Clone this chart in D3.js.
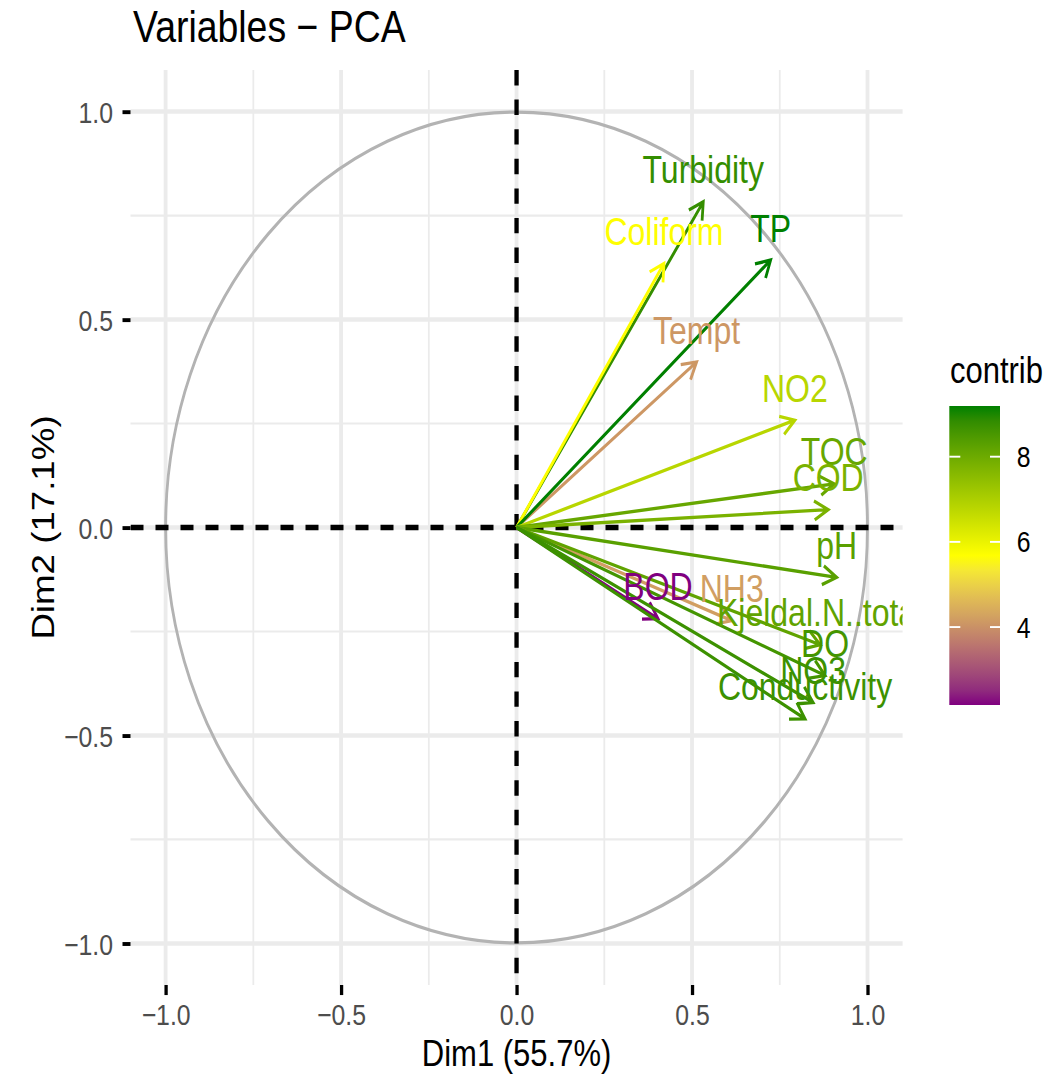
<!DOCTYPE html>
<html>
<head>
<meta charset="utf-8">
<script src="https://cdn.jsdelivr.net/npm/d3@7"></script>
<style>
  html, body { margin: 0; padding: 0; background: #fff; }
  svg { display: block; }
</style>
</head>
<body>
<div id="viz"></div>
<script>
// Variable loadings on Dim1 / Dim2 and their contribution.
const VAR_NAMES = ['Tempt', 'Turbidity', 'Coliform', 'TP', 'NO2', 'TOC', 'COD', 'pH',
  'BOD', 'NH3', 'Kjeldal.N..total', 'DO', 'NO3', 'Conductivity'];
const DIM1 = [0.513, 0.532, 0.420, 0.724, 0.793, 0.905, 0.888, 0.912,
  0.403, 0.613, 0.865, 0.879, 0.845, 0.822];
const DIM2 = [0.398, 0.783, 0.635, 0.643, 0.258, 0.105, 0.043, -0.120,
  -0.219, -0.224, -0.282, -0.356, -0.421, -0.460];
const CONTRIB = [4.1, 8.8, 5.7, 9.19, 6.8, 8.1, 7.8, 8.3,
  2.17, 4.2, 8.2, 8.6, 8.7, 8.7];

const AXIS_TICKS = [-1, -0.5, 0, 0.5, 1];
const MINOR_TICKS = [-0.75, -0.25, 0.25, 0.75];
const LEGEND_TICKS = [4, 6, 8];
const GRADIENT = ['#800080', '#ffff00', '#008000'];

const W = 1063;
const H = 1074;
// the reference picture is stretched vertically; draw square and let the viewBox stretch it
const STRETCH = 415.5 / 351;
const VH = H / STRETCH;
const PANEL = { left: 130.5, right: 902.6, top: 70 / STRETCH, bottom: 985 / STRETCH };
const FONT = '"Liberation Sans", Arial, Helvetica, sans-serif';

const svg = d3.select('#viz')
  .append('svg')
  .attr('width', W)
  .attr('height', H)
  .attr('viewBox', `0 0 ${W} ${VH}`)
  .attr('preserveAspectRatio', 'none')
  .style('font-family', FONT);

const x = d3.scaleLinear().domain([-1.1, 1.1]).range([PANEL.left, PANEL.right]);
const y = d3.scaleLinear().domain([-1.1, 1.1]).range([PANEL.bottom, PANEL.top]);

const cExtent = d3.extent(CONTRIB);
const color = d3.scaleLinear()
  .domain([cExtent[0], (cExtent[0] + cExtent[1]) / 2, cExtent[1]])
  .range(GRADIENT)
  .interpolate(d3.interpolateLab);

const defs = svg.append('defs');
defs.append('clipPath').attr('id', 'panel-clip')
  .append('rect')
  .attr('x', PANEL.left).attr('y', PANEL.top)
  .attr('width', PANEL.right - PANEL.left)
  .attr('height', PANEL.bottom - PANEL.top);

// grid
const grid = svg.append('g');
grid.selectAll('line.vminor').data(MINOR_TICKS).join('line')
  .attr('x1', (d) => x(d)).attr('x2', (d) => x(d))
  .attr('y1', PANEL.top).attr('y2', PANEL.bottom)
  .attr('stroke', '#ebebeb').attr('stroke-width', 1.8);
grid.selectAll('line.hminor').data(MINOR_TICKS).join('line')
  .attr('y1', (d) => y(d)).attr('y2', (d) => y(d))
  .attr('x1', PANEL.left).attr('x2', PANEL.right)
  .attr('stroke', '#ebebeb').attr('stroke-width', 1.8);
grid.selectAll('line.vmajor').data(AXIS_TICKS).join('line')
  .attr('x1', (d) => x(d)).attr('x2', (d) => x(d))
  .attr('y1', PANEL.top).attr('y2', PANEL.bottom)
  .attr('stroke', '#ebebeb').attr('stroke-width', 3.8);
grid.selectAll('line.hmajor').data(AXIS_TICKS).join('line')
  .attr('y1', (d) => y(d)).attr('y2', (d) => y(d))
  .attr('x1', PANEL.left).attr('x2', PANEL.right)
  .attr('stroke', '#ebebeb').attr('stroke-width', 3.8);

const panel = svg.append('g').attr('clip-path', 'url(#panel-clip)');

// correlation circle
panel.append('circle')
  .attr('cx', x(0)).attr('cy', y(0))
  .attr('r', x(1) - x(0))
  .attr('fill', 'none')
  .attr('stroke', '#b3b3b3')
  .attr('stroke-width', 2.8);

// zero lines
panel.append('line')
  .attr('x1', PANEL.left).attr('x2', PANEL.right)
  .attr('y1', y(0)).attr('y2', y(0))
  .attr('stroke', '#000').attr('stroke-width', 4.5).attr('stroke-dasharray', '13,12');
panel.append('line')
  .attr('x1', x(0)).attr('x2', x(0))
  .attr('y1', PANEL.top).attr('y2', PANEL.bottom)
  .attr('stroke', '#000').attr('stroke-width', 4.3).attr('stroke-dasharray', '13,12');

const vars = VAR_NAMES.map((name, i) => ({
  name, d1: DIM1[i], d2: DIM2[i], contrib: CONTRIB[i],
}));

// open arrowhead, 30 degrees
const HEAD = 16;
function arrowPath(d) {
  const x0 = x(0), y0 = y(0), x1 = x(d.d1), y1 = y(d.d2);
  const a = Math.atan2(y1 - y0, x1 - x0);
  const p1 = [x1 - HEAD * Math.cos(a - Math.PI / 6), y1 - HEAD * Math.sin(a - Math.PI / 6)];
  const p2 = [x1 - HEAD * Math.cos(a + Math.PI / 6), y1 - HEAD * Math.sin(a + Math.PI / 6)];
  return `M${x0},${y0}L${x1},${y1}M${p1[0]},${p1[1]}L${x1},${y1}L${p2[0]},${p2[1]}`;
}

panel.selectAll('path.arrow').data(vars).join('path')
  .attr('class', 'arrow')
  .attr('d', arrowPath)
  .attr('fill', 'none')
  .attr('stroke', (d) => color(d.contrib))
  .attr('stroke-width', 2.8)
  .attr('stroke-linejoin', 'miter');

panel.selectAll('text.lab').data(vars).join('text')
  .attr('class', 'lab')
  .attr('x', (d) => x(d.d1))
  .attr('y', (d) => y(d.d2) - 15.5)
  .attr('text-anchor', 'middle')
  .attr('font-size', 32)
  .attr('fill', (d) => color(d.contrib))
  .text((d) => d.name);

// axes
const fmt = d3.format('.1f');
const xAxis = svg.append('g')
  .attr('transform', `translate(0,${PANEL.bottom})`)
  .call(d3.axisBottom(x).tickValues(AXIS_TICKS).tickFormat(fmt).tickSize(8.5).tickPadding(7.7));
const yAxis = svg.append('g')
  .attr('transform', `translate(${PANEL.left},0)`)
  .call(d3.axisLeft(y).tickValues(AXIS_TICKS).tickFormat(fmt).tickSize(8).tickPadding(9.5));
[xAxis, yAxis].forEach((g) => {
  g.select('.domain').remove();
  g.selectAll('.tick line').attr('stroke', '#000').attr('stroke-width', 3.3);
  g.selectAll('.tick text')
    .attr('fill', '#4d4d4d')
    .attr('font-size', 24.8)
    .attr('font-family', FONT);
});
yAxis.selectAll('.tick text').attr('dy', '0.36em');

// titles
svg.append('text')
  .attr('x', 133).attr('y', 35.2)
  .attr('font-size', 37.4)
  .attr('fill', '#000')
  .text('Variables \u2212 PCA');

svg.append('text')
  .attr('x', (PANEL.left + PANEL.right) / 2)
  .attr('y', 900.2)
  .attr('text-anchor', 'middle')
  .attr('font-size', 31)
  .text('Dim1 (55.7%)');

svg.append('text')
  .attr('transform', `translate(54,${(PANEL.top + PANEL.bottom) / 2}) rotate(-90)`)
  .attr('text-anchor', 'middle')
  .attr('font-size', 31)
  .text('Dim2 (17.1%)');

// colour bar legend
const LEG = { x: 949.3, w: 50.7, top: 406 / STRETCH, bottom: 705 / STRETCH };
const ly = d3.scaleLinear().domain(cExtent).range([LEG.bottom, LEG.top]);

const grad = defs.append('linearGradient')
  .attr('id', 'contrib-grad')
  .attr('x1', 0).attr('y1', 1).attr('x2', 0).attr('y2', 0);
grad.selectAll('stop').data(d3.range(0, 1.0001, 0.05)).join('stop')
  .attr('offset', (t) => t)
  .attr('stop-color', (t) => color(cExtent[0] + t * (cExtent[1] - cExtent[0])));

svg.append('text')
  .attr('x', 950).attr('y', 383.3 / STRETCH)
  .attr('font-size', 31)
  .text('contrib');

svg.append('rect')
  .attr('x', LEG.x).attr('y', LEG.top)
  .attr('width', LEG.w).attr('height', LEG.bottom - LEG.top)
  .attr('fill', 'url(#contrib-grad)');

const legTicks = svg.append('g');
legTicks.selectAll('line.l').data(LEGEND_TICKS).join('line')
  .attr('x1', LEG.x).attr('x2', LEG.x + 11)
  .attr('y1', (d) => ly(d)).attr('y2', (d) => ly(d))
  .attr('stroke', '#fff').attr('stroke-width', 1.6);
legTicks.selectAll('line.r').data(LEGEND_TICKS).join('line')
  .attr('x1', LEG.x + LEG.w - 10).attr('x2', LEG.x + LEG.w)
  .attr('y1', (d) => ly(d)).attr('y2', (d) => ly(d))
  .attr('stroke', '#fff').attr('stroke-width', 1.6);
legTicks.selectAll('text').data(LEGEND_TICKS).join('text')
  .attr('x', 1016.7)
  .attr('y', (d) => ly(d) + 8.9)
  .attr('font-size', 24.8)
  .attr('fill', '#000')
  .text((d) => d);
</script>
</body>
</html>
